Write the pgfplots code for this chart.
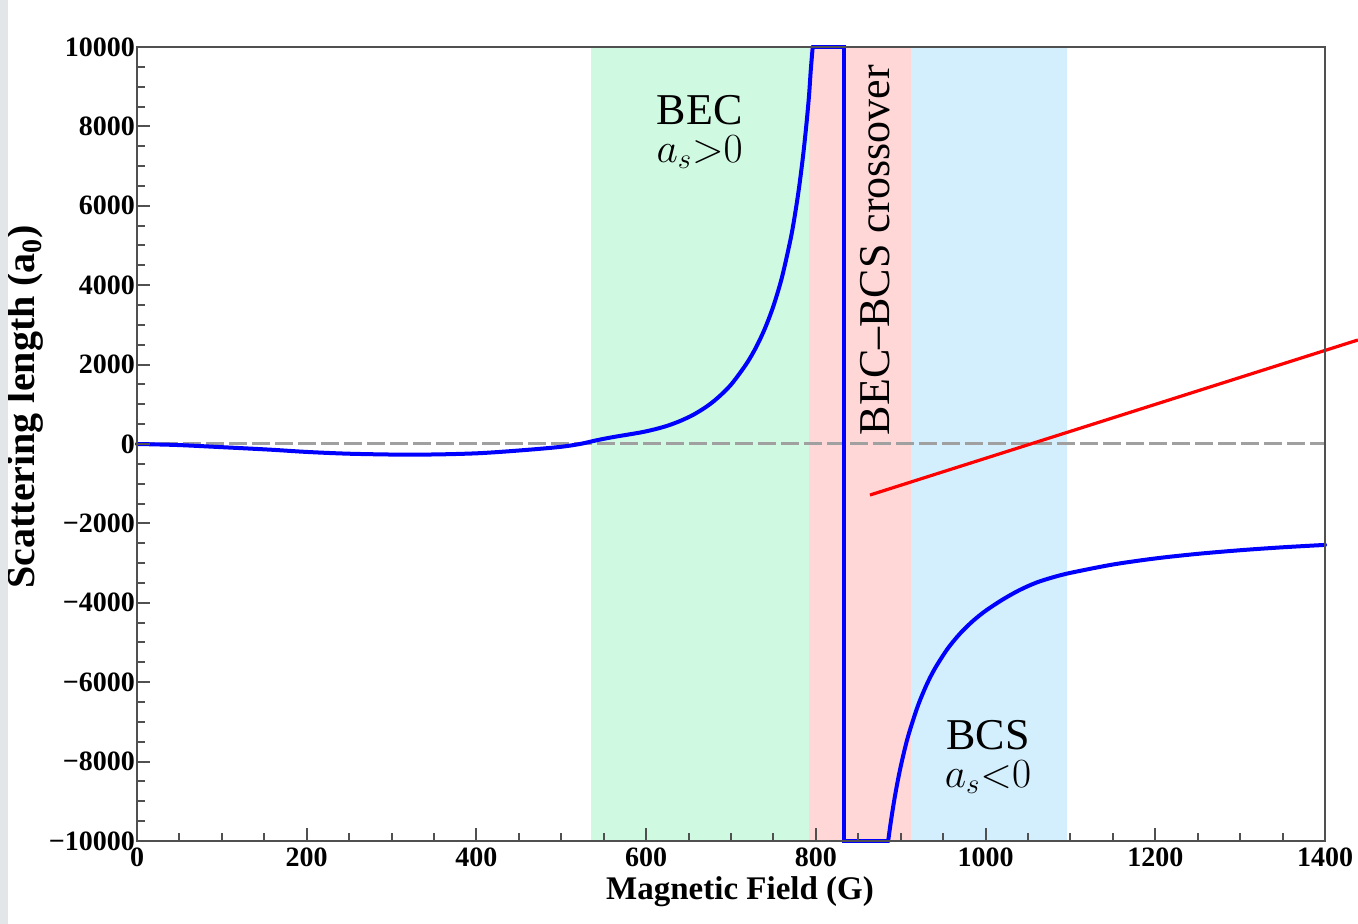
\documentclass[border=0pt]{standalone}
\usepackage{pgfplots}
\pgfplotsset{compat=1.18}
\usepackage{fontspec}
\setmainfont{Liberation Serif}
\definecolor{becgreen}{RGB}{208,249,226}
\definecolor{crosspink}{RGB}{255,215,215}
\definecolor{bcsblue}{RGB}{211,238,252}
\definecolor{axisgray}{RGB}{80,80,80}
\definecolor{zerogray}{RGB}{160,160,160}
\definecolor{bandgray}{RGB}{226,230,233}
\begin{document}
\begin{tikzpicture}
\begin{axis}[
  at={(0pt,0pt)}, anchor=south west,
  scale only axis, width=594pt, height=397pt,
  xmin=0, xmax=1400, ymin=-10000, ymax=10000,
  scaled ticks=false,
  clip=false, axis on top,
  axis line style={axisgray, line width=1pt},
  tick pos=left, tick align=inside,
  major tick length=6.5pt, minor tick length=4pt,
  tick style={axisgray, line width=1pt},
  xtick={0,200,...,1400}, ytick={-10000,-8000,...,10000},
  minor x tick num=3, minor y tick num=3,
  xticklabels={0,200,400,600,800,1000,1200,1400},
  yticklabels={−10000,−8000,−6000,−4000,−2000,0,2000,4000,6000,8000,10000},
  tick label style={font=\bfseries\fontsize{14}{15}\selectfont},
  yticklabel style={xshift=2.5pt},
  xlabel={\bfseries Magnetic Field (G)},
  xlabel style={font=\fontsize{16.5}{18}\selectfont, at={(axis description cs:0.5076,-0.064)}, anchor=center},
  ylabel={\bfseries Scattering length (a\textsubscript{0})},
  ylabel style={font=\fontsize{20}{22}\selectfont, at={(axis description cs:-0.094,0.547)}, anchor=center},
]
% regions
\addplot[draw=none, fill=becgreen] coordinates {(535,-10000) (792,-10000) (792,10000) (535,10000)} -- cycle;
\addplot[draw=none, fill=crosspink] coordinates {(792,-10000) (912.5,-10000) (912.5,10000) (792,10000)} -- cycle;
\addplot[draw=none, fill=bcsblue] coordinates {(912.5,-10000) (1096.5,-10000) (1096.5,10000) (912.5,10000)} -- cycle;
% zero line
\addplot[zerogray, line width=1.5pt, dash pattern=on 9pt off 2.5pt] coordinates {(0,0) (1400,0)};
% scattering length curve: left branch
\addplot[blue, line width=2pt, line cap=round, smooth, tension=0.5] coordinates {
(0,0) (47,-25) (100,-80) (157,-143) (200,-200) (250,-245) (314,-269)
(360,-260) (400,-235) (432,-193) (470,-130) (500,-70) (522,0) (542,95) (560,170)
(593,289) (610,369) (625,459) (640,579) (655,729) (670,924) (680,1084) (690,1274)
(700,1494) (710,1772) (720,2079) (730,2455)
(740,2911) (750,3477) (760,4195) (770,5138) (775,5729) (780,6429) (785,7272)
(789,8082) (792,8791) (794,9416) (796.3,10000)
};
% clipped part near the resonance
\addplot[blue, line width=2pt, line cap=round, line join=miter] coordinates {
(796.3,10000) (833,10000) (833,-10000) (885.2,-10000)
};
% right branch
\addplot[blue, line width=2pt, line cap=round, smooth, tension=0.5] coordinates {
(885.2,-10000) (888,-9568) (892,-9019) (896,-8542) (900,-8122) (905,-7664)
(910,-7266) (920,-6609) (930,-6088) (940,-5666) (955,-5164) (970,-4773)
(985,-4459) (1000,-4202) (1020,-3920) (1040,-3680) (1060,-3490) (1080,-3354)
(1100,-3246) (1150,-3036) (1200,-2883) (1250,-2767) (1300,-2676) (1350,-2602)
(1400,-2542)
};
% red annotation line
\addplot[red, line width=1.6pt] coordinates {(863.8,-1285) (1438.8,2620)};
% region labels
\node[font=\fontsize{22}{24}\selectfont, inner sep=1pt] at (axis cs:663,8413) {BEC};
\node[font=\fontsize{22}{24}\selectfont, inner sep=1pt] at (axis cs:663,7350) {$a_s{>}0$};
\node[font=\fontsize{22}{24}\selectfont, rotate=90] at (axis cs:869.7,4887) {BEC–BCS crossover};
\node[font=\fontsize{22}{24}\selectfont, inner sep=1pt] at (axis cs:1002.8,-7330) {BCS};
\node[font=\fontsize{22}{24}\selectfont, inner sep=1pt] at (axis cs:1002.8,-8400) {$a_s{<}0$};
\end{axis}
\fill[bandgray] (-68.5pt,-41.5pt) rectangle (-64.5pt,420.5pt);
\pgfresetboundingbox
\path[use as bounding box] (-68.5pt,-41.5pt) rectangle (610.5pt,420.5pt);
\end{tikzpicture}
\end{document}
